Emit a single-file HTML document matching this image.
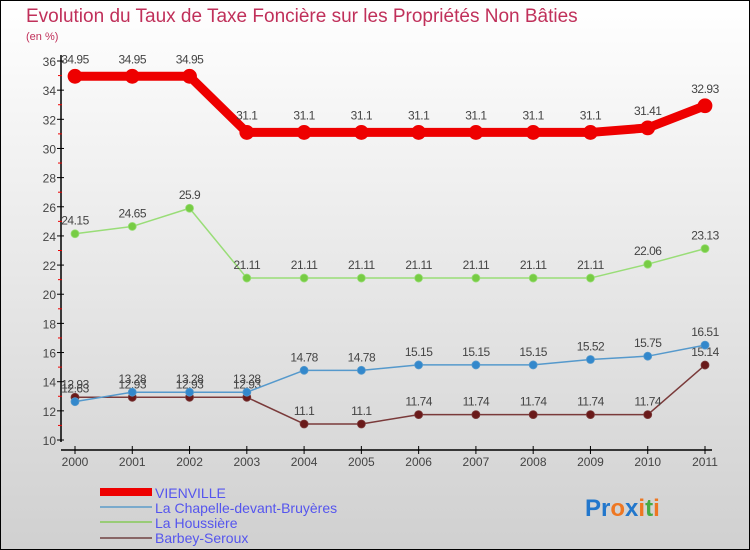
<!DOCTYPE html>
<html><head><meta charset="utf-8"><style>
body{margin:0}
svg{display:block;font-family:"Liberation Sans",sans-serif}
</style></head><body>
<svg id="c" width="750" height="550">
<defs><linearGradient id="bg" x1="0" y1="0" x2="0" y2="1"><stop offset="0" stop-color="#ffffff"/><stop offset="1" stop-color="#d0d0d0"/></linearGradient></defs>
<rect x="0.5" y="0.5" width="749" height="549" fill="url(#bg)" stroke="#000"/>
<text x="26" y="22" font-size="19" fill="#c0305a">Evolution du Taux de Taxe Foncière sur les Propriétés Non Bâties</text>
<text x="26" y="40" font-size="11" fill="#c0305a">(en %)</text>
<g id="axes"></g><g id="series"></g>
<g>
<rect x="100" y="488" width="52" height="8" fill="#e00"/>
<text x="155" y="498" font-size="14" fill="#5555ee">VIENVILLE</text>
<rect x="100" y="506" width="52" height="2" fill="#7aaacc"/>
<text x="155" y="513" font-size="14" fill="#5555ee">La Chapelle-devant-Bruyères</text>
<rect x="100" y="521" width="52" height="2" fill="#99cc77"/>
<text x="155" y="528" font-size="14" fill="#5555ee">La Houssière</text>
<rect x="100" y="537" width="52" height="2" fill="#886666"/>
<text x="155" y="543" font-size="14" fill="#5555ee">Barbey-Seroux</text>
</g>
<text x="585" y="516" font-size="24" font-weight="bold"><tspan fill="#2277cc">Pr</tspan><tspan fill="#ee7722">o</tspan><tspan fill="#2277cc">x</tspan><tspan fill="#ee7722">i</tspan><tspan fill="#44aa44">t</tspan><tspan fill="#ee7722">i</tspan></text>
</svg>
<script>
const years=["2000","2001","2002","2003","2004","2005","2006","2007","2008","2009","2010","2011"];
const yTicks=[10,12,14,16,18,20,22,24,26,28,30,32,34,36];
const vienville=[34.95,34.95,34.95,31.1,31.1,31.1,31.1,31.1,31.1,31.1,31.41,32.93];
const chapelle=[12.63,13.28,13.28,13.28,14.78,14.78,15.15,15.15,15.15,15.52,15.75,16.51];
const houssiere=[24.15,24.65,25.9,21.11,21.11,21.11,21.11,21.11,21.11,21.11,22.06,23.13];
const barbey=[12.93,12.93,12.93,12.93,11.1,11.1,11.74,11.74,11.74,11.74,11.74,15.14];
const NS="http://www.w3.org/2000/svg";
const X=i=>75+i*(630/11);
const Y=v=>440-(v-10)*(379/26);
function mk(t,a,p){const e=document.createElementNS(NS,t);for(const k in a)e.setAttribute(k,a[k]);p.appendChild(e);return e;}
const ax=document.getElementById('axes');
let e=mk('line',{x1:61,y1:55,x2:61,y2:442,stroke:'#000','stroke-width':1.5},ax);


e=mk('line',{x1:61,y1:450,x2:712,y2:450,stroke:'#000','stroke-width':1.5},ax);


yTicks.forEach(v=>{
 mk('line',{x1:57,y1:Y(v),x2:64,y2:Y(v),stroke:'#000'},ax);
 if(v<36)mk('line',{x1:58,y1:Y(v+1),x2:62,y2:Y(v+1),stroke:'#e00'},ax);
 const t=mk('text',{x:56,y:Y(v)+5,'font-size':12,'text-anchor':'end',fill:'#444'},ax);t.textContent=v;
 
 
});
years.forEach((y,i)=>{
 mk('line',{x1:X(i),y1:446,x2:X(i),y2:454,stroke:'#000'},ax);
 const t=mk('text',{x:X(i),y:466,'font-size':12,'text-anchor':'middle',fill:'#444'},ax);t.textContent=y;
 
 
});
const sg=document.getElementById('series');
function series(d,name,col,w,r,fill,lab){
 const g=mk('g',{},sg);
 
 
 const l=mk('polyline',{points:d.map((v,i)=>X(i)+','+Y(v)).join(' '),fill:'none',stroke:col,'stroke-width':w,'stroke-linejoin':'round'},g);
 
 
 d.forEach((v,i)=>{
  const c=mk('circle',{cx:X(i),cy:Y(v),r:r,fill:fill,stroke:col,'stroke-width':0.8},g);
  
  
  const t=mk('text',{x:X(i),y:Y(v)-lab,'font-size':12,'text-anchor':'middle',fill:'#444','letter-spacing':'-0.5'},g);
  t.textContent=String(v);
  
  
 });
}
series(barbey,'barbey','#7a3a3a',1.5,4,'#6a1a1a',9);
series(chapelle,'chapelle','#5599cc',1.5,4,'#3388cc',9);
series(houssiere,'houssiere','#99dd77',1.5,4,'#77cc44',9);
series(vienville,'vienville','#ee0000',9,7,'#ee0000',13);
</script>
</body></html>
